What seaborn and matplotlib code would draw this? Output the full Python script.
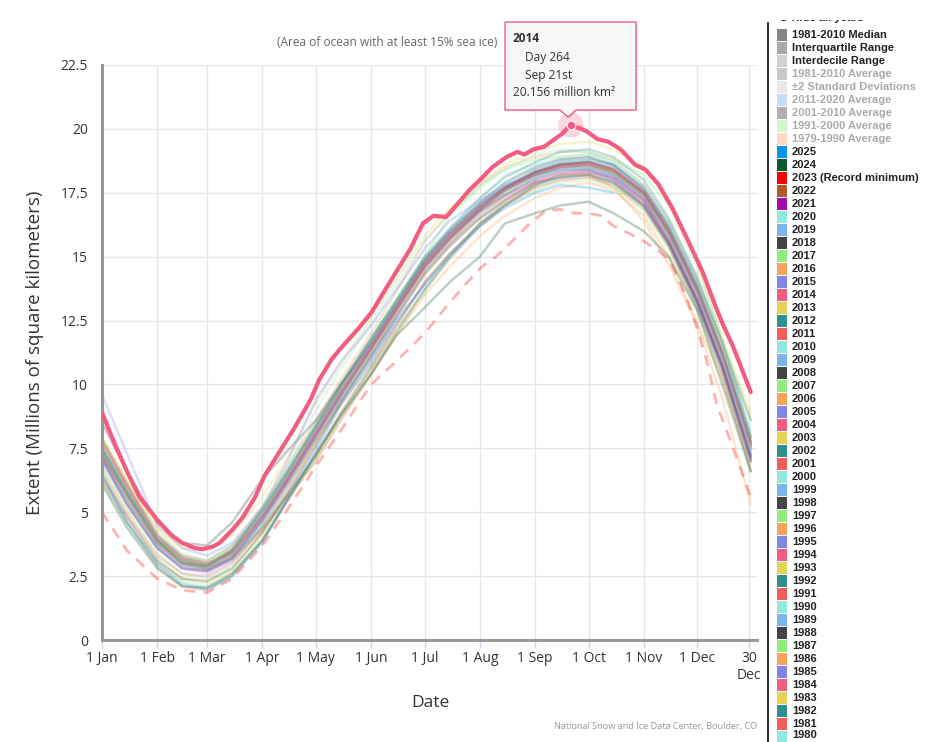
import matplotlib
matplotlib.use("Agg")
import pandas as pd
import matplotlib.pyplot as plt
import seaborn as sns
from matplotlib.patches import Rectangle, Polygon
from matplotlib.lines import Line2D

W, H = 934, 742

# day-of-year sample points (1st and mid of each month, plus year end)
half_month_days = [1, 15, 32, 46, 60, 74, 91, 105, 121, 135, 152, 166, 182,
                   196, 213, 227, 244, 258, 274, 288, 305, 319, 335, 349, 365]

# extent in million km2
ext_1979 = [7.5, 5.8, 4.0, 3.2, 3.0, 3.5, 4.8, 6.2, 7.9, 9.4, 11.2, 12.8, 14.5, 15.6, 16.8, 17.6, 18.3, 18.6, 18.7, 18.5, 17.6, 16.1, 13.8, 11.3, 7.7]
ext_1980 = [7.8, 6.2, 4.2, 3.3, 3.0, 3.6, 5.1, 6.6, 8.4, 9.9, 11.8, 13.3, 14.9, 16.1, 17.2, 18.2, 18.6, 18.8, 18.9, 18.6, 17.7, 16.3, 14.0, 11.6, 8.2]
ext_1981 = [7.3, 5.7, 3.9, 3.1, 2.9, 3.5, 5.0, 6.5, 8.3, 9.9, 11.6, 13.1, 14.8, 15.9, 17.0, 17.7, 18.3, 18.6, 18.6, 18.3, 17.4, 15.9, 13.6, 11.1, 7.6]
ext_1982 = [7.9, 6.1, 4.1, 3.3, 3.1, 3.7, 5.0, 6.4, 8.1, 9.5, 11.3, 12.9, 14.7, 15.8, 16.9, 17.7, 18.4, 18.7, 18.8, 18.6, 17.6, 16.2, 13.8, 11.2, 7.9]
ext_1983 = [7.6, 5.9, 4.0, 3.2, 3.0, 3.4, 4.9, 6.4, 8.2, 9.7, 11.5, 13.0, 14.7, 15.8, 16.9, 17.6, 18.2, 18.5, 18.6, 18.2, 17.3, 15.7, 13.4, 10.9, 7.2]
ext_1984 = [6.6, 4.9, 3.3, 2.6, 2.5, 3.0, 4.4, 5.9, 7.8, 9.3, 11.1, 12.7, 14.4, 15.5, 16.7, 17.3, 17.9, 18.2, 18.3, 18.1, 17.2, 15.6, 13.2, 10.6, 7.0]
ext_1985 = [7.0, 5.3, 3.6, 2.8, 2.7, 3.2, 4.7, 6.2, 8.0, 9.6, 11.4, 13.0, 14.6, 15.7, 16.9, 17.6, 18.2, 18.5, 18.6, 18.3, 17.5, 16.0, 13.6, 11.2, 7.6]
ext_1986 = [7.2, 5.6, 3.8, 3.0, 2.8, 3.2, 4.3, 5.6, 7.2, 8.7, 10.4, 11.9, 13.5, 14.6, 15.8, 16.6, 17.3, 17.7, 17.9, 17.6, 16.6, 15.0, 12.4, 10.2, 6.9]
ext_1987 = [7.4, 5.8, 3.9, 3.1, 2.9, 3.6, 5.2, 6.7, 8.5, 10.1, 11.8, 13.3, 14.9, 16.0, 17.1, 17.8, 18.3, 18.6, 18.6, 18.3, 17.4, 15.9, 13.6, 11.1, 7.5]
ext_1988 = [7.3, 5.7, 3.8, 3.0, 2.9, 3.4, 4.8, 6.3, 8.1, 9.6, 11.4, 12.9, 14.6, 15.7, 16.8, 17.6, 18.3, 18.6, 18.7, 18.4, 17.5, 16.0, 13.8, 11.3, 7.7]
ext_1989 = [7.1, 5.5, 3.7, 2.9, 2.8, 3.2, 4.5, 6.0, 7.8, 9.4, 11.2, 12.7, 14.4, 15.5, 16.6, 17.4, 18.1, 18.4, 18.5, 18.2, 17.3, 15.8, 13.5, 11.0, 7.3]
ext_1990 = [6.9, 5.3, 3.6, 2.9, 2.7, 3.2, 4.6, 6.1, 7.9, 9.5, 11.3, 12.8, 14.5, 15.6, 16.7, 17.4, 18.0, 18.3, 18.4, 18.1, 17.1, 15.6, 13.3, 10.8, 7.2]
ext_1991 = [7.1, 5.4, 3.7, 2.9, 2.7, 3.1, 4.3, 5.6, 7.0, 8.6, 10.4, 12.0, 13.7, 14.9, 16.2, 17.0, 17.8, 18.2, 18.3, 18.0, 17.1, 15.6, 13.3, 10.8, 7.3]
ext_1992 = [7.2, 5.5, 3.8, 3.0, 2.8, 3.3, 4.8, 6.3, 8.1, 9.7, 11.5, 13.0, 14.7, 15.8, 16.9, 17.5, 18.1, 18.4, 18.5, 18.2, 17.3, 15.8, 13.4, 10.9, 7.1]
ext_1993 = [6.7, 5.0, 3.2, 2.4, 2.2, 2.7, 4.2, 5.8, 7.7, 9.4, 11.2, 12.8, 14.4, 15.6, 16.7, 17.4, 18.1, 18.4, 18.5, 18.3, 17.4, 15.9, 13.6, 11.1, 7.4]
ext_1994 = [7.4, 5.7, 3.9, 3.0, 2.8, 3.3, 4.9, 6.4, 8.3, 9.8, 11.6, 13.1, 14.8, 15.9, 17.0, 17.7, 18.3, 18.6, 18.6, 18.3, 17.4, 15.9, 13.6, 11.1, 7.5]
ext_1995 = [7.5, 5.8, 3.9, 3.1, 2.9, 3.4, 4.9, 6.3, 8.1, 9.7, 11.5, 13.0, 14.7, 15.8, 16.9, 17.7, 18.3, 18.6, 18.7, 18.4, 17.5, 16.0, 13.7, 11.2, 7.7]
ext_1996 = [7.3, 5.6, 3.8, 3.0, 2.8, 3.3, 4.6, 6.1, 7.8, 9.2, 10.8, 12.3, 14.0, 15.1, 16.2, 17.0, 17.8, 18.2, 18.3, 18.0, 17.1, 15.6, 13.2, 10.7, 7.1]
ext_1997 = [6.8, 5.1, 3.4, 2.6, 2.4, 2.9, 4.5, 6.1, 8.0, 9.6, 11.4, 12.9, 14.6, 15.7, 16.8, 17.6, 18.2, 18.5, 18.6, 18.3, 17.4, 15.9, 13.6, 11.1, 7.5]
ext_1998 = [7.3, 5.7, 3.9, 3.1, 2.9, 3.5, 5.0, 6.5, 8.3, 9.9, 11.7, 13.2, 14.9, 16.0, 17.1, 17.9, 18.5, 18.8, 18.9, 18.6, 17.7, 16.2, 14.0, 11.6, 8.6]
ext_1999 = [7.7, 6.0, 4.0, 3.1, 2.9, 3.4, 4.8, 6.3, 8.1, 9.7, 11.5, 13.0, 14.7, 15.8, 16.9, 17.6, 18.2, 18.5, 18.6, 18.3, 17.4, 15.9, 13.6, 11.1, 7.5]
ext_2000 = [7.4, 5.8, 3.9, 3.0, 2.8, 3.3, 4.8, 6.4, 8.2, 9.8, 11.6, 13.1, 14.8, 15.9, 17.1, 17.9, 18.6, 18.9, 19.0, 18.7, 17.8, 16.3, 14.0, 11.5, 7.9]
ext_2001 = [7.8, 6.1, 4.1, 3.2, 3.0, 3.5, 4.9, 6.3, 8.0, 9.6, 11.4, 12.9, 14.6, 15.7, 16.8, 17.6, 18.2, 18.5, 18.6, 18.3, 17.4, 15.9, 13.6, 11.1, 7.6]
ext_2002 = [7.5, 5.8, 3.9, 3.0, 2.8, 3.2, 4.4, 5.7, 7.2, 8.8, 10.6, 12.1, 13.7, 15.0, 16.3, 17.1, 17.8, 18.1, 18.2, 17.9, 17.0, 15.5, 13.2, 10.7, 7.1]
ext_2003 = [7.9, 6.2, 4.3, 3.4, 3.1, 3.6, 5.0, 6.4, 8.1, 9.7, 11.5, 13.0, 14.7, 15.8, 17.0, 17.7, 18.3, 18.6, 18.7, 18.4, 17.5, 16.0, 13.7, 11.2, 7.7]
ext_2004 = [7.6, 6.0, 4.0, 3.2, 2.9, 3.4, 4.9, 6.4, 8.2, 9.8, 11.5, 13.0, 14.7, 15.8, 16.9, 17.7, 18.3, 18.6, 18.7, 18.5, 17.6, 16.1, 13.8, 11.3, 7.7]
ext_2005 = [7.5, 5.8, 3.9, 3.1, 2.9, 3.5, 5.1, 6.6, 8.4, 10.0, 11.8, 13.2, 14.9, 16.0, 17.1, 17.7, 18.2, 18.5, 18.5, 18.2, 17.3, 15.8, 13.5, 11.0, 7.4]
ext_2006 = [7.6, 5.9, 4.0, 3.1, 2.9, 3.6, 5.2, 6.8, 8.6, 10.2, 12.0, 13.6, 15.6, 16.7, 17.8, 18.5, 18.9, 19.1, 19.1, 18.8, 17.8, 16.4, 14.1, 11.5, 7.9]
ext_2007 = [7.5, 5.8, 3.9, 3.1, 2.9, 3.4, 5.0, 6.5, 8.3, 9.9, 11.7, 13.2, 15.0, 16.6, 17.7, 18.4, 18.8, 18.9, 19.0, 18.8, 18.2, 17.0, 14.6, 11.8, 8.6]
ext_2008 = [8.5, 6.6, 4.6, 3.8, 3.7, 4.6, 6.3, 7.4, 8.6, 10.0, 11.6, 13.1, 14.8, 15.9, 17.0, 17.7, 18.3, 18.6, 18.7, 18.4, 17.5, 16.0, 13.7, 11.2, 7.8]
ext_2009 = [7.4, 5.7, 3.8, 3.0, 2.8, 3.3, 4.9, 6.4, 8.2, 9.8, 11.6, 13.1, 14.8, 15.9, 17.0, 17.8, 18.4, 18.7, 18.8, 18.5, 17.6, 16.1, 13.8, 11.3, 7.7]
ext_2010 = [7.6, 5.9, 4.0, 3.2, 3.0, 3.5, 5.0, 6.8, 9.0, 10.6, 12.4, 13.9, 15.6, 16.7, 17.8, 18.4, 19.0, 19.2, 19.1, 18.7, 17.8, 16.4, 14.1, 11.6, 8.0]
ext_2011 = [7.8, 6.0, 4.0, 3.2, 3.0, 3.4, 4.8, 6.3, 8.1, 9.7, 11.5, 13.0, 14.7, 15.8, 16.9, 17.6, 18.2, 18.5, 18.6, 18.4, 17.5, 16.0, 13.7, 11.1, 7.6]
ext_2012 = [7.5, 5.8, 3.9, 3.0, 2.9, 3.5, 5.1, 6.6, 8.4, 10.0, 11.8, 13.3, 15.0, 16.1, 17.3, 18.1, 18.7, 19.1, 19.2, 18.9, 18.0, 16.5, 14.2, 11.7, 8.0]
ext_2013 = [7.9, 6.3, 4.4, 3.6, 3.5, 4.1, 5.6, 7.1, 9.3, 10.8, 12.6, 14.1, 15.8, 16.9, 17.9, 18.6, 19.1, 19.4, 19.5, 19.2, 18.5, 17.2, 14.8, 11.8, 8.9]
ext_2015 = [9.6, 7.3, 4.5, 3.6, 3.3, 3.8, 5.2, 7.0, 9.4, 10.9, 12.3, 13.7, 15.3, 16.4, 17.2, 17.8, 18.2, 18.4, 18.4, 18.0, 17.0, 15.5, 13.2, 10.7, 7.2]
ext_2016 = [7.3, 5.6, 3.8, 3.0, 2.8, 3.3, 4.7, 6.1, 7.9, 9.5, 11.3, 12.8, 14.5, 15.6, 16.5, 17.2, 17.9, 18.2, 18.2, 17.7, 16.4, 14.7, 12.3, 9.5, 5.3]
ext_2017 = [6.2, 4.6, 3.0, 2.3, 2.1, 2.6, 4.0, 5.5, 7.0, 8.7, 10.5, 12.0, 13.6, 15.0, 16.3, 17.0, 17.6, 17.9, 18.0, 17.7, 16.8, 15.3, 12.9, 10.4, 6.8]
ext_2018 = [6.4, 4.8, 3.1, 2.4, 2.3, 2.8, 4.2, 5.7, 7.6, 9.3, 11.1, 12.6, 14.3, 15.4, 16.5, 17.2, 17.9, 18.1, 18.2, 17.9, 17.0, 15.5, 13.2, 10.7, 7.2]
ext_2019 = [7.1, 5.4, 3.6, 2.8, 2.6, 3.1, 4.6, 6.1, 7.9, 9.4, 11.0, 12.4, 13.9, 15.1, 16.2, 17.0, 17.8, 18.2, 18.3, 18.0, 17.0, 15.5, 13.1, 10.6, 7.0]
ext_2020 = [7.0, 5.4, 3.6, 2.8, 2.7, 3.2, 4.7, 6.2, 8.0, 9.6, 11.4, 12.9, 14.6, 15.7, 16.8, 17.5, 18.1, 18.4, 18.5, 18.2, 17.3, 15.8, 13.5, 11.0, 7.4]
ext_2021 = [7.1, 5.3, 3.6, 2.8, 2.7, 3.2, 4.7, 6.2, 8.0, 9.6, 11.4, 12.9, 14.6, 15.7, 16.8, 17.4, 18.0, 18.3, 18.4, 18.1, 17.2, 15.6, 13.3, 10.7, 7.0]
ext_2022 = [6.3, 4.6, 2.9, 2.1, 1.95, 2.5, 3.9, 5.4, 7.2, 8.9, 10.7, 12.3, 14.0, 15.1, 16.3, 17.0, 17.7, 18.0, 18.1, 17.8, 16.9, 15.4, 13.0, 10.4, 6.6]
ext_2024 = [6.1, 4.4, 2.8, 2.1, 2.05, 2.6, 3.9, 5.5, 7.3, 8.8, 10.4, 11.9, 13.0, 14.0, 15.0, 16.3, 16.7, 17.0, 17.15, 16.7, 16.0, 15.0, 12.9, 10.0, 6.6]
ext_2025 = [6.5, 4.6, 3.0, 2.2, 2.0, 2.5, 3.8, 5.5, 7.4, 9.2, 10.9, 12.5, 13.9, 15.0, 16.2, 16.9, 17.5, 17.8, 17.7, 17.5]

# 2023 (record minimum, dashed) and 2014 (highlighted) traced more closely
days_2023 = [1, 15, 32, 46, 60, 74, 91, 105, 121, 135, 152, 166, 182, 196, 206, 214, 222,
             231, 241, 250, 258, 266, 274, 281, 288, 297, 305, 312, 319, 326, 333, 340,
             346, 353, 365]
ext_2023 = [5.0, 3.5, 2.4, 1.95, 1.85, 2.4, 3.7, 5.1, 6.8, 8.2, 10.0, 10.9, 12.0, 13.2,
            14.0, 14.6, 15.0, 15.6, 16.3, 16.8, 16.85, 16.7, 16.7, 16.6, 16.2, 15.9, 15.6,
            15.3, 14.9, 13.9, 12.6, 11.0, 9.2, 7.9, 5.6]

days_2014 = [1, 8, 15, 22, 32, 40, 46, 53, 57, 63, 67, 74, 80, 87, 92, 100, 109, 118,
             123, 130, 136, 145, 152, 159, 166, 174, 181, 187, 194, 201, 207, 213, 220,
             228, 234, 238, 243, 249, 255, 259, 264, 270, 273, 279, 285, 292, 300, 306,
             313, 321, 330, 338, 345, 349, 355, 360, 365]
ext_2014 = [8.9, 7.7, 6.6, 5.6, 4.7, 4.1, 3.8, 3.6, 3.55, 3.65, 3.8, 4.3, 4.8, 5.6, 6.4,
            7.3, 8.3, 9.4, 10.2, 11.0, 11.5, 12.2, 12.8, 13.6, 14.4, 15.3, 16.3, 16.6,
            16.55, 17.1, 17.6, 18.0, 18.5, 18.9, 19.1, 19.0, 19.2, 19.3, 19.6, 19.8,
            20.156, 20.0, 19.9, 19.6, 19.5, 19.2, 18.6, 18.4, 17.85, 16.9, 15.6, 14.4,
            13.1, 12.4, 11.5, 10.6, 9.7]

month_ticks = [1, 32, 60, 91, 121, 152, 182, 213, 244, 274, 305, 335, 364]
month_labels = ["1 Jan", "1 Feb", "1 Mar", "1 Apr", "1 May", "1 Jun", "1 Jul",
                "1 Aug", "1 Sep", "1 Oct", "1 Nov", "1 Dec", "30\nDec"]

cycle = ["#91e8e1", "#7cb5ec", "#434348", "#90ed7d", "#f7a35c",
         "#8085e9", "#f15c80", "#e4d354", "#2b908f", "#f45b5b"]
special = {2025: "#0a94f2", 2024: "#0b5a2b", 2023: "#ff0000", 2022: "#b0592a", 2021: "#a40db2"}
year_colors = {}
for yr in range(2025, 1978, -1):
    year_colors[yr] = special.get(yr, cycle[(2020 - yr) % 10])

extra_labels = ["1981-2010 Median", "Interquartile Range", "Interdecile Range",
                "1981-2010 Average", "\u00b12 Standard Deviations", "2011-2020 Average",
                "2001-2010 Average", "1991-2000 Average", "1979-1990 Average"]
extra_colors = ["#848484", "#a8a8a8", "#d2d2d2", "#c8c8c8", "#e8e8e8",
                "#c6dcf2", "#b0b0b0", "#d4f5cf", "#fad9c4"]
extra_active = [True, True, True, False, False, False, False, False, False]

bg_series = {
    1979: ext_1979, 1980: ext_1980, 1981: ext_1981, 1982: ext_1982, 1983: ext_1983,
    1984: ext_1984, 1985: ext_1985, 1986: ext_1986, 1987: ext_1987, 1988: ext_1988,
    1989: ext_1989, 1990: ext_1990, 1991: ext_1991, 1992: ext_1992, 1993: ext_1993,
    1994: ext_1994, 1995: ext_1995, 1996: ext_1996, 1997: ext_1997, 1998: ext_1998,
    1999: ext_1999, 2000: ext_2000, 2001: ext_2001, 2002: ext_2002, 2003: ext_2003,
    2004: ext_2004, 2005: ext_2005, 2006: ext_2006, 2007: ext_2007, 2008: ext_2008,
    2009: ext_2009, 2010: ext_2010, 2011: ext_2011, 2012: ext_2012, 2013: ext_2013,
    2015: ext_2015, 2016: ext_2016, 2017: ext_2017, 2018: ext_2018, 2019: ext_2019,
    2020: ext_2020, 2021: ext_2021, 2022: ext_2022, 2024: ext_2024, 2025: ext_2025,
}
rows = []
for yr, vals in bg_series.items():
    for d, v in zip(half_month_days, vals):
        rows.append((yr, d, v))
bg = pd.DataFrame(rows, columns=["year", "day", "extent"])

sns.set_style("white")
plt.rcParams["font.family"] = ["Open Sans", "DejaVu Sans"]

fig = plt.figure(figsize=(W / 100, H / 100), dpi=100)
ax = fig.add_axes([102 / W, 1 - 640 / H, 655 / W, 575 / H])

sns.lineplot(data=bg, x="day", y="extent", hue="year", units="year", estimator=None,
             palette={y: year_colors[y] for y in bg_series}, alpha=0.28, linewidth=1.8,
             legend=False, sort=False, ax=ax)
sns.lineplot(x=days_2023, y=ext_2023, color=year_colors[2023], alpha=0.3, linewidth=2,
             linestyle=(0, (4, 3)), sort=False, ax=ax)
sns.lineplot(x=days_2014, y=ext_2014, color=year_colors[2014], linewidth=3, sort=False,
             ax=ax, zorder=5)

# hovered point on 2014
i_pk = days_2014.index(264)
ax.scatter([days_2014[i_pk]], [ext_2014[i_pk]], s=330, color=year_colors[2014], alpha=0.25,
           edgecolor="none", zorder=6)
ax.scatter([days_2014[i_pk]], [ext_2014[i_pk]], s=40, color=year_colors[2014],
           edgecolor="white", linewidth=0.8, zorder=7)

ax.set_xlim(1, 368.5)
ax.set_ylim(0, 22.5)
ax.set_xticks(month_ticks)
ax.set_xticklabels(month_labels)
yt = [0, 2.5, 5, 7.5, 10, 12.5, 15, 17.5, 20, 22.5]
ax.set_yticks(yt)
ax.set_yticklabels([f"{v:g}" for v in yt])
ax.grid(True, color="#e6e6e6", linewidth=1)
ax.set_axisbelow(True)
for s in ["top", "right"]:
    ax.spines[s].set_visible(False)
for s in ["left", "bottom"]:
    ax.spines[s].set_color("#999999")
    ax.spines[s].set_linewidth(2.2)
ax.tick_params(axis="x", length=6, width=1, color="#ccd6eb", pad=2, labelsize=10,
               labelcolor="#333333", direction="out", bottom=True)
ax.tick_params(axis="y", length=0, pad=10, labelsize=10, labelcolor="#333333")
ax.set_xlabel("Date", fontsize=12.5, color="#333333")
ax.set_ylabel("Extent (Millions of square kilometers)", fontsize=13.5, color="#333333")
ax.xaxis.set_label_coords((430 - 102) / 655, -(703 - 640) / 575)
ax.xaxis.label.set_va("center")
ax.yaxis.set_label_coords(-(102 - 35) / 655, 0.5)
ax.yaxis.label.set_va("center")


def fx(x):
    return x / W


def fy(y):
    return 1 - y / H


fig.text(fx(387), fy(43), "(Area of ocean with at least 15% sea ice)", fontsize=8.6,
         color="#666666", ha="center", va="center")
fig.text(fx(757), fy(727), "National Snow and Ice Data Center, Boulder, CO", fontsize=6.6,
         color="#999999", ha="right", va="center")

# tooltip
shape = [(505, 22), (636, 22), (636, 110), (576, 110), (568, 117), (560, 110), (505, 110)]
fig.add_artist(Polygon([(fx(x + 1.5), fy(y + 1.5)) for x, y in shape], closed=True,
                       transform=fig.transFigure, facecolor="#000000", alpha=0.08,
                       edgecolor="none", zorder=20))
fig.add_artist(Polygon([(fx(x), fy(y)) for x, y in shape], closed=True,
                       transform=fig.transFigure, facecolor="#f7f7f7",
                       edgecolor=year_colors[2014], linewidth=1, zorder=21))
fig.text(fx(513), fy(39), "2014", fontsize=8.6, fontweight="bold", color="#333333",
         va="center", zorder=22)
fig.text(fx(525), fy(57), "Day 264", fontsize=8.6, color="#333333", va="center", zorder=22)
fig.text(fx(525), fy(75), "Sep 21st", fontsize=8.6, color="#333333", va="center", zorder=22)
fig.text(fx(513), fy(93), "20.156 million km\u00b2", fontsize=8.6, color="#333333",
         va="center", zorder=22)

# legend column
fig.add_artist(Line2D([fx(768), fx(768)], [fy(23), fy(742)], transform=fig.transFigure,
                      color="#333333", linewidth=1.5))
legend_font = ["Liberation Sans", "DejaVu Sans"]
fig.text(fx(779), fy(18), "\u2297 Hide all years", fontsize=8, fontweight="bold",
         color="#222222", va="center", family=legend_font)
fig.add_artist(Rectangle((fx(770), fy(20)), fx(164), 20 / H, transform=fig.transFigure,
                         facecolor="white", edgecolor="none", zorder=10))

entries = [(lab, col, "#222222" if act else "#aaaaaa")
           for lab, col, act in zip(extra_labels, extra_colors, extra_active)]
for yr in range(2025, 1978, -1):
    lab = "2023 (Record minimum)" if yr == 2023 else str(yr)
    entries.append((lab, year_colors[yr], "#222222"))
for k, (lab, col, tcol) in enumerate(entries):
    yc = 35 + 13 * k
    if yc > 745:
        break
    fig.add_artist(Rectangle((fx(777), fy(yc + 6)), 10 / W, 12 / H,
                             transform=fig.transFigure, facecolor=col, edgecolor="none"))
    fig.text(fx(792), fy(min(yc, 735)), lab, fontsize=8, fontweight="bold", color=tcol,
             va="center", family=legend_font)

fig.savefig("out.png", dpi=100)
